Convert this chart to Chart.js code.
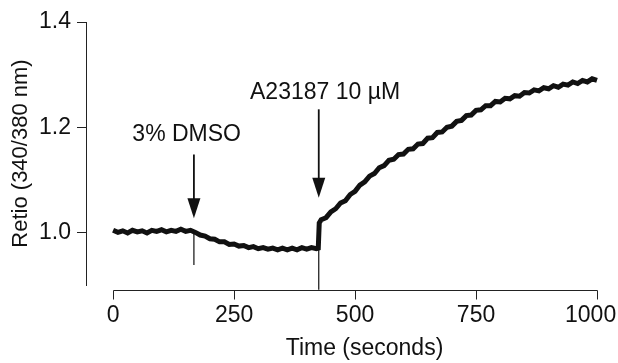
<!DOCTYPE html>
<html>
<head>
<meta charset="utf-8">
<script src="https://cdn.jsdelivr.net/npm/chart.js@4.4.0/dist/chart.umd.min.js"></script>
<style>
  body { margin: 0; background: #fff; }
</style>
</head>
<body>
<canvas id="myChart" width="618" height="363"></canvas>
<script>
// trace (seconds, 340/380 ratio)
const times = [0, 10, 20, 30, 40, 50, 60, 70, 80, 90, 100, 110, 120, 130, 140, 150, 160,
  170, 180, 190, 200, 210, 220, 230, 240, 250, 260, 270, 280, 290, 300, 310, 320, 330, 340,
  350, 360, 370, 380, 390, 400, 410, 420, 424, 426, 430, 440, 450, 460, 470, 480, 490, 500,
  510, 520, 530, 540, 550, 560, 570, 580, 590, 600, 610, 620, 630, 640, 650, 660, 670, 680,
  690, 700, 710, 720, 730, 740, 750, 760, 770, 780, 790, 800, 810, 820, 830, 840, 850, 860,
  870, 880, 890, 900, 910, 920, 930, 940, 950, 960, 970, 980, 990, 1000];
const ratio = [1.004, 1.000, 1.003, 0.999, 1.004, 1.001, 1.003, 0.999, 1.004, 1.002, 1.005,
  1.001, 1.004, 1.002, 1.006, 1.002, 1.004,
  1.000, 0.995, 0.993, 0.988, 0.987, 0.982, 0.982, 0.977, 0.978, 0.974, 0.975, 0.971, 0.973,
  0.969, 0.971, 0.968, 0.970, 0.967, 0.970, 0.967, 0.970, 0.967, 0.971, 0.968, 0.971, 0.969,
  0.970, 1.018, 1.024, 1.028, 1.039, 1.045, 1.056, 1.060, 1.072, 1.078,
  1.090, 1.096, 1.107, 1.112, 1.123, 1.127, 1.137, 1.139, 1.148, 1.149, 1.158, 1.159, 1.168,
  1.169, 1.179, 1.180, 1.190, 1.191, 1.200, 1.202, 1.211, 1.213, 1.222, 1.223, 1.232, 1.233,
  1.241, 1.241, 1.249, 1.248, 1.255, 1.254, 1.260, 1.259, 1.266, 1.265, 1.271, 1.269, 1.275,
  1.273, 1.279, 1.276, 1.282, 1.280, 1.286, 1.283, 1.289, 1.286, 1.292, 1.289];

// additions and the injection artefacts they leave on the trace
const eventTimes = [167, 425];
const eventLabels = ['3% DMSO', 'A23187 10 \u00b5M'];
const artifactHighs = [1.001, 0.970];
const artifactLows = [0.938, 0.891];

const xTicks = [0, 250, 500, 750, 1000];
const yTicks = [1.0, 1.2, 1.4];

const ink = '#111';
Chart.defaults.font.family = "'Liberation Sans', Arial, sans-serif";
Chart.defaults.color = ink;

const trace = times.map((t, i) => ({x: t, y: ratio[i]}));
const artifacts = [];
eventTimes.forEach((t, i) => {
  artifacts.push({x: t, y: artifactHighs[i]}, {x: t, y: artifactLows[i]}, {x: t + 1, y: null});
});

// arrow / label placement for each event (data units)
const noteLayout = [
  {textT: 152, textV: 1.173, from: 1.148, to: 1.027},
  {textT: 438, textV: 1.254, from: 1.234, to: 1.066}
];

const markers = {
  id: 'markers',
  afterDatasetsDraw(chart) {
    const {ctx, chartArea, scales: {x, y}} = chart;
    ctx.save();

    // detached x axis
    ctx.strokeStyle = '#222';
    ctx.lineWidth = 1;
    const axisY = Math.round(chartArea.bottom + 5) + 0.5;
    const x0 = Math.round(x.getPixelForValue(xTicks[0])) + 0.5;
    const x1 = Math.round(x.getPixelForValue(xTicks[xTicks.length - 1])) + 0.5;
    ctx.beginPath();
    ctx.moveTo(x0, axisY);
    ctx.lineTo(x1, axisY);
    xTicks.forEach(v => {
      const px = Math.round(x.getPixelForValue(v)) + 0.5;
      ctx.moveTo(px, axisY);
      ctx.lineTo(px, axisY + 9);
    });
    ctx.stroke();

    ctx.fillStyle = ink;
    ctx.font = "23px 'Liberation Sans', Arial, sans-serif";
    ctx.textAlign = 'center';
    ctx.textBaseline = 'middle';
    ctx.fillText('Time (seconds)', (x0 + x1) / 2 + 9, 349);

    // arrows and labels
    ctx.strokeStyle = ink;
    ctx.textBaseline = 'alphabetic';
    eventTimes.forEach((t, i) => {
      const n = noteLayout[i];
      const px = x.getPixelForValue(t);
      const top = y.getPixelForValue(n.from);
      const tip = y.getPixelForValue(n.to);
      ctx.lineWidth = 1.8;
      ctx.beginPath();
      ctx.moveTo(px, top);
      ctx.lineTo(px, tip - 18);
      ctx.stroke();
      ctx.beginPath();
      ctx.moveTo(px - 6.5, tip - 20);
      ctx.lineTo(px + 6.5, tip - 20);
      ctx.lineTo(px, tip);
      ctx.closePath();
      ctx.fill();
      ctx.fillText(eventLabels[i], x.getPixelForValue(n.textT), y.getPixelForValue(n.textV));
    });
    ctx.restore();
  }
};

const ctx = document.getElementById('myChart');

new Chart(ctx, {
  type: 'line',
  data: {
    datasets: [{
      data: trace,
      borderColor: ink,
      borderWidth: 5,
      pointRadius: 0,
      tension: 0,
      clip: false
    }, {
      data: artifacts,
      borderColor: ink,
      borderWidth: 1.2,
      pointRadius: 0,
      spanGaps: false,
      clip: false
    }]
  },
  options: {
    responsive: false,
    animation: false,
    layout: {padding: {top: 22, right: 21, bottom: 0, left: 0}},
    plugins: {
      legend: {display: false},
      tooltip: {enabled: false}
    },
    scales: {
      x: {
        type: 'linear',
        min: -56,
        max: 1000,
        afterBuildTicks: axis => { axis.ticks = xTicks.map(v => ({value: v})); },
        afterFit: axis => { axis.height = 78; axis.paddingLeft = 0; axis.paddingRight = 0; },
        grid: {display: false, drawTicks: false},
        border: {display: false},
        ticks: {
          padding: 17,
          maxRotation: 0,
          autoSkip: false,
          font: {size: 23},
          callback: v => v === 1000 ? '1000\u00a0\u00a0' : String(v)
        }
      },
      y: {
        min: 0.9,
        max: 1.4,
        afterBuildTicks: axis => { axis.ticks = yTicks.map(v => ({value: v})); },
        afterFit: axis => { axis.width = 86; },
        grid: {drawOnChartArea: false, tickLength: 9, color: '#222'},
        border: {color: '#222', width: 1},
        ticks: {
          padding: 6,
          font: {size: 23},
          callback: v => v.toFixed(1)
        },
        title: {
          display: true,
          text: 'Retio (340/380 nm)',
          font: {size: 22},
          padding: {top: 8, bottom: 0}
        }
      }
    }
  },
  plugins: [markers]
});
</script>
</body>
</html>
